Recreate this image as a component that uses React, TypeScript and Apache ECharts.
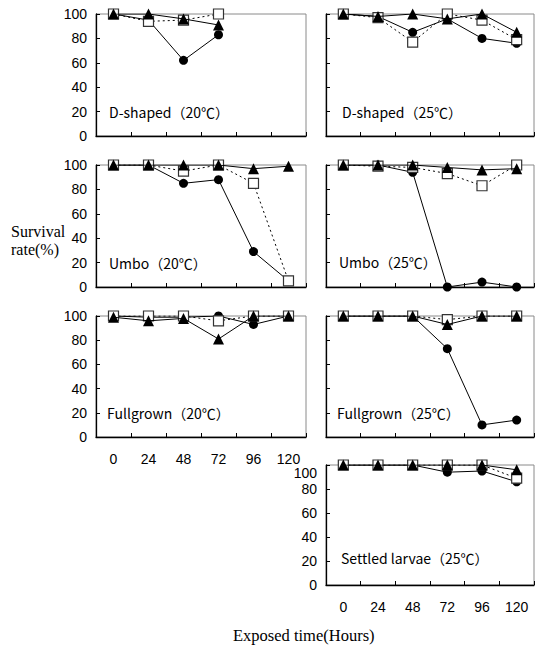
import React, { useEffect, useRef } from "react";
import * as echarts from "echarts";

const hours = ["0", "24", "48", "72", "96", "120"];

// D-shaped 20°C (only to 72 h)
const dShaped20Circle = [100, 95, 62, 83];
const dShaped20Square = [100, 94, 95, 100];
const dShaped20Triangle = [100, 100, 96, 91];
// D-shaped 25°C
const dShaped25Circle = [100, 98, 85, 96, 80, 76];
const dShaped25Square = [100, 97, 77, 100, 95, 79];
const dShaped25Triangle = [100, 98, 100, 96, 100, 85];
// Umbo 20°C
const umbo20Circle = [100, 100, 85, 88, 29, 5];
const umbo20Square = [100, 100, 95, 100, 85, 5];
const umbo20Triangle = [100, 100, 100, 100, 97, 99];
// Umbo 25°C
const umbo25Circle = [100, 100, 94, 0, 4, 0];
const umbo25Square = [100, 99, 98, 93, 83, 100];
const umbo25Triangle = [100, 100, 100, 98, 96, 97];
// Fullgrown 20°C
const full20Circle = [100, 99, 99, 100, 93, 100];
const full20Square = [100, 100, 100, 96, 100, 100];
const full20Triangle = [99, 96, 98, 81, 100, 100];
// Fullgrown 25°C
const full25Circle = [100, 100, 100, 73, 10, 14];
const full25Square = [100, 100, 100, 97, 100, 100];
const full25Triangle = [100, 100, 100, 93, 100, 100];
// Settled larvae 25°C
const settledCircle = [100, 100, 100, 94, 95, 86];
const settledSquare = [100, 100, 100, 100, 100, 89];
const settledTriangle = [100, 100, 100, 100, 100, 96];

const panels = [
  { title: "D-shaped（20℃）", circle: dShaped20Circle, square: dShaped20Square, triangle: dShaped20Triangle, left: 96, top: 14, width: 210, height: 122, xl: false, yl: true, tx: 109, ty: 115, shift100: false },
  { title: "D-shaped（25℃）", circle: dShaped25Circle, square: dShaped25Square, triangle: dShaped25Triangle, left: 326, top: 14, width: 208, height: 122, xl: false, yl: false, tx: 342, ty: 115, shift100: false },
  { title: "Umbo（20℃）", circle: umbo20Circle, square: umbo20Square, triangle: umbo20Triangle, left: 96, top: 165, width: 210, height: 122, xl: false, yl: true, tx: 109, ty: 266, shift100: false },
  { title: "Umbo（25℃）", circle: umbo25Circle, square: umbo25Square, triangle: umbo25Triangle, left: 326, top: 165, width: 208, height: 122, xl: false, yl: false, tx: 339, ty: 265, shift100: false },
  { title: "Fullgrown（20℃）", circle: full20Circle, square: full20Square, triangle: full20Triangle, left: 96, top: 316, width: 210, height: 121, xl: true, yl: true, tx: 107, ty: 416, shift100: false },
  { title: "Fullgrown（25℃）", circle: full25Circle, square: full25Square, triangle: full25Triangle, left: 326, top: 316, width: 208, height: 121, xl: false, yl: false, tx: 337, ty: 416, shift100: false },
  { title: "Settled larvae（25℃）", circle: settledCircle, square: settledSquare, triangle: settledTriangle, left: 326, top: 465, width: 208, height: 120, xl: true, yl: true, tx: 341, ty: 561, shift100: true },
];

const sans = "'Liberation Sans', Arial, sans-serif";
const serif = "'Liberation Serif', 'Times New Roman', serif";
const cjk = "'Noto Sans CJK JP', 'Noto Sans', sans-serif";

export default function App() {
  const ref = useRef<HTMLDivElement>(null);
  useEffect(() => {
    if (!ref.current) return;
    const chart = echarts.init(ref.current, null, { renderer: "svg" });
    const grid: any[] = [];
    const xAxis: any[] = [];
    const yAxis: any[] = [];
    const series: any[] = [];
    const graphic: any[] = [];
    panels.forEach((p, i) => {
      grid.push({
        left: p.left, top: p.top, width: p.width, height: p.height,
        show: true, borderColor: "#8a8a8a", borderWidth: 1, backgroundColor: "transparent",
      });
      xAxis.push({
        type: "category", gridIndex: i, data: hours, boundaryGap: true,
        axisLine: { show: true, lineStyle: { color: "#000", width: 1.3 } },
        axisTick: { show: true, inside: true, length: 4, lineStyle: { color: "#000" } },
        axisLabel: { show: p.xl, color: "#000", fontSize: 14, fontFamily: sans, margin: 15, interval: 0 },
        splitLine: { show: false },
      });
      yAxis.push({
        type: "value", gridIndex: i, min: 0, max: 100, interval: 20,
        axisLine: { show: true, lineStyle: { color: "#000", width: 1.3 } },
        axisTick: { show: true, inside: true, length: 4, lineStyle: { color: "#000" } },
        axisLabel: {
          show: p.yl, color: "#000", fontSize: 14, fontFamily: sans, margin: 9,
          formatter: (v: number) => (p.shift100 && v === 100 ? "{s|100}" : String(v)),
          rich: { s: { fontSize: 14, fontFamily: sans, color: "#000", padding: [16, 0, 0, 0] } },
        },
        splitLine: { show: false },
      });
      series.push({
        type: "line", xAxisIndex: i, yAxisIndex: i, data: p.circle,
        symbol: "circle", symbolSize: 9, z: 2,
        lineStyle: { color: "#000", width: 1 },
        itemStyle: { color: "#000" },
      });
      series.push({
        type: "line", xAxisIndex: i, yAxisIndex: i, data: p.square,
        symbol: "rect", symbolSize: 10, z: 3,
        lineStyle: { color: "#000", width: 1, type: [2, 3] },
        itemStyle: { color: "#fff", borderColor: "#333", borderWidth: 1.2 },
      });
      series.push({
        type: "line", xAxisIndex: i, yAxisIndex: i, data: p.triangle,
        symbol: "triangle", symbolSize: 11, z: 4,
        lineStyle: { color: "#000", width: 1 },
        itemStyle: { color: "#000" },
      });
      graphic.push({
        type: "text", left: p.tx, top: p.ty - 10,
        style: { text: p.title, font: `14px ${cjk}`, fill: "#000" },
      });
    });
    graphic.push({
      type: "text", left: 11, top: 223,
      style: { text: "Survival", font: `16px ${serif}`, fill: "#000" },
    });
    graphic.push({
      type: "text", left: 11, top: 241,
      style: { text: "rate(%)", font: `16px ${serif}`, fill: "#000" },
    });
    graphic.push({
      type: "text", left: 233, top: 627,
      style: { text: "Exposed time(Hours)", font: `16.5px ${serif}`, fill: "#000" },
    });
    chart.setOption({
      animation: false,
      backgroundColor: "#fff",
      grid, xAxis, yAxis, series, graphic,
    });
    return () => chart.dispose();
  }, []);
  return (
    <div
      ref={ref}
      style={{ position: "absolute", left: 0, top: 0, width: 536, height: 648 }}
    />
  );
}
